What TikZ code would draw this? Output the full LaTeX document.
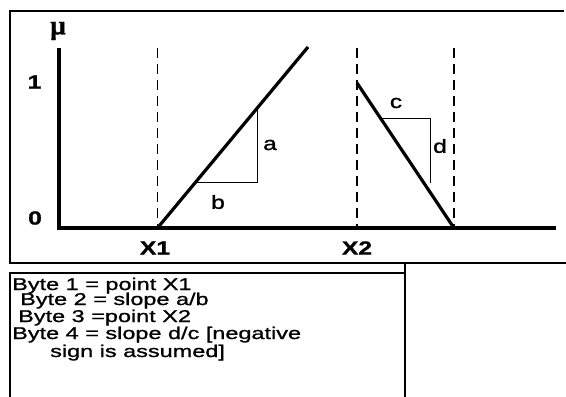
\documentclass[tikz,border=0pt]{standalone}
\usepackage{fontspec}
\setmainfont{Liberation Sans}
\newfontfamily\wide[FakeStretch=1.38,FakeBold=1.1]{Liberation Sans}
\newfontfamily\labfont[FakeStretch=1.3,FakeBold=1.1]{Liberation Sans}
\newfontfamily\mufont[FakeBold=1.2]{Liberation Serif}
\begin{document}
\begin{tikzpicture}[x=1pt,y=-1pt,
  frame/.style={line width=1.5pt},
  axisline/.style={line width=4.6pt, line join=miter},
  guide/.style={line width=1.9pt, dash pattern=on 10pt off 6pt},
  ramp/.style={line width=3.2pt},
  tri/.style={line width=1.2pt},
  lbl/.style={inner sep=0pt, font=\labfont\fontsize{19}{22}\selectfont},
  blbl/.style={inner sep=0pt, font=\labfont\bfseries\fontsize{19}{22}\selectfont},
  txt/.style={inner sep=0pt, anchor=base west, font=\wide\fontsize{17}{19}\selectfont}]
\useasboundingbox (0,0) rectangle (566,397);
% frames
\draw[frame] (564,11) -- (10,11) -- (10,263) -- (566,263);
\draw[frame] (10,397) -- (10,273) -- (405,273);
\draw[frame] (405,263) -- (405,397);
% axes
\coordinate (top) at (59,48);
\coordinate (origin) at (59,228);
\coordinate (xend) at (556,228);
\draw[axisline] (top) -- (origin) -- (xend);
% dashed guides
\coordinate (g1t) at (157.5,48); \coordinate (g1b) at (157.5,228);
\coordinate (g2t) at (357,48);   \coordinate (g2b) at (357,228);
\coordinate (g3t) at (454,48);   \coordinate (g3b) at (454,228);
\draw[guide] (g1t) -- (g1b);
\draw[guide] (g2t) -- (g2b);
\draw[guide] (g3t) -- (g3b);
% rising and falling lines
\coordinate (r0) at (157.5,228); \coordinate (r1) at (308,47);
\coordinate (f0) at (357,83);    \coordinate (f1) at (454,228);
\draw[ramp] (r0) -- (r1);
\draw[ramp] (f0) -- (f1);
% slope triangles
\coordinate (ab1) at (195.2,182.7);
\coordinate (ab2) at (257.7,182.7);
\coordinate (ab3) at (257.7,107.5);
\draw[tri] (ab1) -- (ab2) -- (ab3);
\coordinate (cd1) at (380.6,118.3);
\coordinate (cd2) at (430.8,118.3);
\coordinate (cd3) at (430.8,182.7);
\draw[tri] (cd1) -- (cd2) -- (cd3);
% labels
\node[inner sep=0pt, font=\mufont\bfseries\fontsize{27}{30}\selectfont] (mu) at (58,31) {µ};
\node[blbl] (one) at (34.5,82) {1};
\node[blbl] (zero) at (35,218) {0};
\node[blbl] (x1) at (155,248) {X1};
\node[blbl] (x2) at (357,248) {X2};
\node[lbl] (la) at (270,145) {a};
\node[lbl] (lb) at (218,202) {b};
\node[lbl] (lc) at (396,103) {c};
\node[lbl] (ld) at (440,146) {d};
% text
\node[txt] (t1) at (12,290) {Byte 1 = point X1};
\node[txt] (t2) at (20,305) {Byte 2 = slope a/b};
\node[txt] (t3) at (18,322) {Byte 3 =point X2};
\node[txt] (t4) at (12,339) {Byte 4 = slope d/c [negative};
\node[txt] (t5) at (50,357) {sign is assumed]};
\end{tikzpicture}
\end{document}
